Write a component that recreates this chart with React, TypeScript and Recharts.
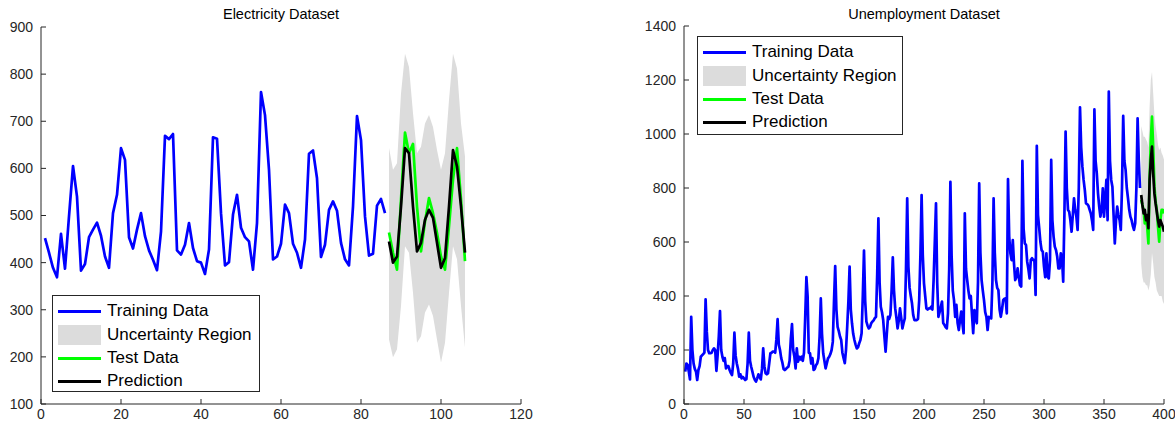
import React from 'react';
import { ComposedChart, Line, Area, XAxis, YAxis } from 'recharts';

// ---------- Electricity dataset ----------
const elecTrainStart = 1;
const elecTrain = [
  452, 421, 389, 369, 461, 387, 498, 605, 540, 383, 397, 454,
  470, 485, 457, 413, 389, 505, 544, 643, 618, 454, 430, 470,
  505, 456, 426, 406, 384, 466, 669, 662, 673, 426, 417, 438,
  484, 431, 403, 400, 376, 428, 666, 663, 505, 394, 401, 502,
  544, 474, 454, 445, 385, 484, 762, 713, 597, 407, 413, 440,
  523, 505, 440, 421, 389, 449, 631, 638, 579, 412, 438, 512,
  530, 510, 442, 407, 394, 519, 711, 660, 498, 415, 419, 521,
  535, 505,
];
const elecTestStart = 87;
const elecTest = [464, 421, 385, 533, 676, 632, 652, 519, 424, 487, 537, 505, 463, 413, 385, 477, 576, 643, 533, 403];
const elecPred = [445, 400, 413, 519, 643, 632, 519, 424, 442, 491, 512, 495, 442, 389, 410, 519, 639, 604, 519, 421];
const elecUpper = [643, 597, 611, 759, 843, 815, 717, 632, 646, 695, 713, 688, 639, 597, 632, 745, 843, 812, 695, 625];
const elecLower = [237, 199, 216, 308, 435, 421, 336, 230, 244, 294, 311, 287, 237, 188, 230, 336, 435, 407, 308, 220];
const elecXTicks = [0, 20, 40, 60, 80, 100, 120];
const elecYTicks = [100, 200, 300, 400, 500, 600, 700, 800, 900];

// ---------- Unemployment dataset ----------
const unempTrainStart = 1;
const unempTrain = [
  120, 150, 145, 120, 91, 323, 200, 150, 130, 120, 89, 126,
  140, 175, 180, 185, 190, 388, 268, 200, 188, 188, 190, 200,
  206, 200, 123, 180, 250, 344, 200, 175, 160, 170, 132, 140,
  140, 126, 115, 107, 150, 264, 180, 150, 130, 101, 110, 95,
  100, 95, 89, 92, 150, 264, 160, 138, 120, 101, 90, 83,
  95, 110, 100, 91, 130, 206, 140, 114, 110, 114, 150, 188,
  190, 194, 194, 190, 240, 314, 220, 200, 170, 153, 130, 126,
  130, 135, 138, 160, 240, 296, 200, 175, 132, 206, 157, 175,
  165, 175, 160, 190, 320, 470, 400, 190, 188, 150, 170, 126,
  130, 144, 150, 170, 250, 391, 260, 188, 160, 132, 150, 169,
  175, 185, 200, 230, 380, 511, 350, 286, 270, 250, 237, 190,
  170, 151, 200, 286, 380, 509, 350, 299, 260, 237, 220, 206,
  210, 225, 237, 262, 400, 568, 380, 305, 290, 280, 285, 299,
  305, 310, 318, 323, 480, 688, 450, 360, 340, 311, 250, 194,
  260, 323, 315, 330, 420, 543, 420, 354, 320, 280, 310, 354,
  320, 280, 300, 317, 500, 762, 509, 430, 400, 373, 330, 311,
  311, 311, 315, 385, 550, 774, 550, 447, 400, 354, 350, 354,
  354, 360, 350, 459, 600, 743, 450, 323, 340, 360, 379, 300,
  293, 285, 280, 336, 500, 823, 550, 420, 385, 323, 367, 300,
  274, 310, 342, 300, 262, 706, 500, 459, 420, 391, 400, 330,
  262, 348, 320, 299, 450, 817, 560, 459, 420, 385, 340, 323,
  274, 323, 320, 317, 450, 762, 560, 459, 430, 422, 350, 323,
  350, 385, 390, 391, 336, 833, 620, 558, 533, 607, 520, 459,
  470, 502, 470, 440, 435, 901, 650, 595, 589, 527, 500, 465,
  533, 540, 533, 533, 404, 956, 700, 651, 600, 570, 564, 509,
  470, 558, 472, 465, 533, 904, 680, 620, 583, 570, 546, 502,
  502, 558, 540, 453, 700, 1009, 800, 719, 712, 680, 638, 700,
  762, 720, 694, 645, 800, 1099, 950, 879, 830, 793, 743, 740,
  735, 720, 706, 680, 645, 1091, 900, 854, 780, 731, 694, 720,
  799, 694, 760, 830, 681, 1157, 900, 830, 805, 700, 595, 680,
  731, 700, 681, 645, 800, 1067, 900, 867, 800, 762, 720, 694,
  681, 660, 645, 669, 800, 1058, 900, 800,
];
const unempTestStart = 381;
const unempTest = [756, 737, 719, 669, 681, 657, 595, 830, 978, 1064, 953, 805, 749, 719, 657, 601, 681, 719, 719, 706];
const unempPred = [774, 737, 706, 719, 681, 700, 651, 830, 904, 953, 854, 780, 743, 712, 681, 657, 681, 669, 657, 638];
const unempUpper = [1030, 1010, 990, 990, 980, 970, 950, 1100, 1200, 1230, 1150, 1070, 1030, 1000, 960, 940, 950, 930, 920, 905];
const unempLower = [520, 470, 450, 450, 440, 440, 420, 440, 480, 560, 520, 470, 450, 420, 410, 400, 400, 400, 380, 370];
const unempXTicks = [0, 50, 100, 150, 200, 250, 300, 350, 400];
const unempYTicks = [0, 200, 400, 600, 800, 1000, 1200, 1400];

const legendLabels = ['Training Data', 'Uncertainty Region', 'Test Data', 'Prediction'];

// ---------- helpers ----------
type Row = { x: number; train?: number; test?: number; pred?: number; band?: [number, number] };

function buildRows(
  trainStart: number,
  train: number[],
  testStart: number,
  test: number[],
  pred: number[],
  upper: number[],
  lower: number[]
): Row[] {
  const rows: Row[] = [];
  train.forEach((v, i) => rows.push({ x: trainStart + i, train: v }));
  test.forEach((v, i) =>
    rows.push({ x: testStart + i, test: v, pred: pred[i], band: [lower[i], upper[i]] })
  );
  return rows;
}

const elecRows = buildRows(elecTrainStart, elecTrain, elecTestStart, elecTest, elecPred, elecUpper, elecLower);
const unempRows = buildRows(unempTrainStart, unempTrain, unempTestStart, unempTest, unempPred, unempUpper, unempLower);

const FONT = '"Liberation Sans", Arial, Helvetica, sans-serif';
const AX = '#262626';
const BLUE = '#0000ff';
const GREEN = '#00ff00';
const BLACK = '#000000';
const GRAY = '#dcdcdc';
const LW = 2.7;

function Legend({ left, top, width, height }: { left: number; top: number; width: number; height: number }) {
  const colors = [BLUE, GRAY, GREEN, BLACK];
  const centers = [15, 39, 62, 85];
  return (
    <div
      style={{
        position: 'absolute',
        left,
        top,
        width,
        height,
        boxSizing: 'border-box',
        border: `1px solid ${AX}`,
        background: '#fff',
        fontFamily: FONT,
        fontSize: 17,
        color: '#000',
      }}
    >
      {legendLabels.map((lab, i) => (
        <div
          key={lab}
          style={{
            position: 'absolute',
            left: 0,
            top: centers[i] - 11,
            height: 22,
            display: 'flex',
            alignItems: 'center',
            whiteSpace: 'nowrap',
          }}
        >
          <div
            style={{
              marginLeft: 5,
              width: 43,
              height: i === 1 ? 20 : 3,
              background: colors[i],
            }}
          />
          <span style={{ marginLeft: 6 }}>{lab}</span>
        </div>
      ))}
    </div>
  );
}

function Panel({
  rows,
  xDomain,
  yDomain,
  xTicks,
  yTicks,
  width,
  yAxisWidth,
  top,
  right,
}: {
  rows: Row[];
  xDomain: [number, number];
  yDomain: [number, number];
  xTicks: number[];
  yTicks: number[];
  width: number;
  yAxisWidth: number;
  top: number;
  right: number;
}) {
  return (
    <ComposedChart width={width} height={428} data={rows} margin={{ top, right, left: 0, bottom: 0 }}>
      <XAxis
        type="number"
        dataKey="x"
        domain={xDomain}
        ticks={xTicks}
        interval={0}
        height={24}
        tickSize={-5}
        tickMargin={10}
        stroke={AX}
        tick={{ fill: AX, fontSize: 14, fontFamily: FONT }}
        allowDataOverflow
      />
      <YAxis
        type="number"
        domain={yDomain}
        ticks={yTicks}
        interval={0}
        width={yAxisWidth}
        tickSize={-5}
        tickMargin={13}
        stroke={AX}
        tick={{ fill: AX, fontSize: 14, fontFamily: FONT }}
        allowDataOverflow
      />
      <Area
        type="linear"
        dataKey="band"
        stroke="none"
        fill={GRAY}
        fillOpacity={1}
        isAnimationActive={false}
        activeDot={false}
        dot={false}
      />
      <Line
        type="linear"
        dataKey="train"
        stroke={BLUE}
        strokeWidth={LW}
        dot={false}
        activeDot={false}
        isAnimationActive={false}
        strokeLinejoin="round"
      />
      <Line
        type="linear"
        dataKey="test"
        stroke={GREEN}
        strokeWidth={LW}
        dot={false}
        activeDot={false}
        isAnimationActive={false}
        strokeLinejoin="round"
      />
      <Line
        type="linear"
        dataKey="pred"
        stroke={BLACK}
        strokeWidth={LW}
        dot={false}
        activeDot={false}
        isAnimationActive={false}
        strokeLinejoin="round"
      />
    </ComposedChart>
  );
}

export default function App() {
  return (
    <div
      style={{
        position: 'absolute',
        left: 0,
        top: 0,
        width: 1175,
        height: 428,
        background: '#fff',
        overflow: 'hidden',
        fontFamily: FONT,
      }}
    >
      <div style={{ position: 'absolute', left: 0, top: 0 }}>
        <Panel
          rows={elecRows}
          xDomain={[0, 120]}
          yDomain={[100, 900]}
          xTicks={elecXTicks}
          yTicks={elecYTicks}
          width={560}
          yAxisWidth={41}
          top={27}
          right={39}
        />
      </div>
      <div style={{ position: 'absolute', left: 600, top: 0 }}>
        <Panel
          rows={unempRows}
          xDomain={[0, 400]}
          yDomain={[0, 1400]}
          xTicks={unempXTicks}
          yTicks={unempYTicks}
          width={575}
          yAxisWidth={84}
          top={26}
          right={11}
        />
      </div>
      <div
        style={{
          position: 'absolute',
          left: 41,
          width: 480,
          top: 6,
          textAlign: 'center',
          fontSize: 14.5,
          color: '#000',
        }}
      >
        Electricity Dataset
      </div>
      <div
        style={{
          position: 'absolute',
          left: 684,
          width: 480,
          top: 6,
          textAlign: 'center',
          fontSize: 14.5,
          color: '#000',
        }}
      >
        Unemployment Dataset
      </div>
      <Legend left={52} top={295} width={208} height={97} />
      <Legend left={697} top={36} width={206} height={99} />
    </div>
  );
}
